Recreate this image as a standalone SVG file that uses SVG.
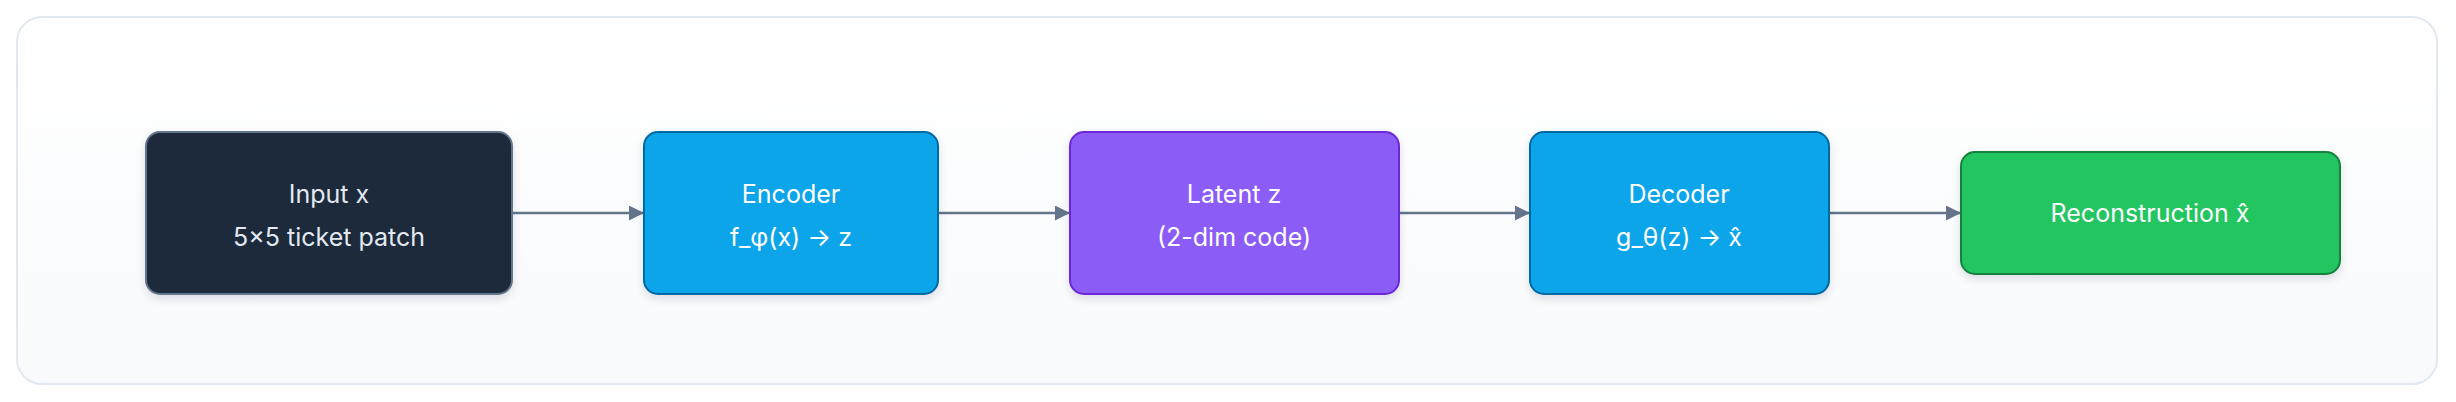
<svg xmlns="http://www.w3.org/2000/svg" width="2456" height="402" viewBox="0 0 2456 402">
<style>
text{font-family:Inter,"Liberation Sans",sans-serif;font-size:25px;text-anchor:middle;fill:#ffffff}
.e{stroke:#64748b;stroke-width:2.5;fill:none}
</style>
<defs>
<marker id="a" viewBox="0 0 10 10" refX="10" refY="5" markerWidth="6" markerHeight="6" orient="auto" markerUnits="strokeWidth"><path d="M0,0L10,5L0,10z" fill="#64748b"/></marker>
<filter id="s" x="-10%" y="-10%" width="120%" height="130%"><feDropShadow dx="0" dy="4" stdDeviation="5" flood-color="#0f172a" flood-opacity="0.12"/></filter>
<linearGradient id="bg" x1="0" y1="0" x2="0" y2="1"><stop offset="0" stop-color="#ffffff"/><stop offset="1" stop-color="#f8fafc"/></linearGradient>
</defs>
<rect width="2456" height="402" fill="#ffffff"/>
<rect x="17" y="17" width="2420" height="367" rx="25" fill="url(#bg)" stroke="#e2e8f0" stroke-width="2"/>
<g id="connectors">
<line class="e" x1="512" y1="213" x2="644" y2="213" marker-end="url(#a)"/>
<line class="e" x1="938" y1="213" x2="1070" y2="213" marker-end="url(#a)"/>
<line class="e" x1="1399" y1="213" x2="1530" y2="213" marker-end="url(#a)"/>
<line class="e" x1="1829" y1="213" x2="1961" y2="213" marker-end="url(#a)"/>
</g>
<g id="input"><rect x="146" y="132" width="366" height="162" rx="14" fill="#1e293b" stroke="#64748b" stroke-width="2" filter="url(#s)"/><text x="329" y="203" fill="#e2e8f0" style="fill:#e2e8f0">Input x</text><text x="329" y="246" style="fill:#e2e8f0">5x5 ticket patch</text></g>
<g id="encoder"><rect x="644" y="132" width="294" height="162" rx="14" fill="#0ea5e9" stroke="#0369a1" stroke-width="2" filter="url(#s)"/><text x="791" y="203">Encoder</text><text x="791" y="246">f_φ(x) → z</text></g>
<g id="latent"><rect x="1070" y="132" width="329" height="162" rx="14" fill="#8b5cf6" stroke="#6d28d9" stroke-width="2" filter="url(#s)"/><text x="1234" y="203">Latent z</text><text x="1234" y="246">(2-dim code)</text></g>
<g id="decoder"><rect x="1530" y="132" width="299" height="162" rx="14" fill="#0ea5e9" stroke="#0369a1" stroke-width="2" filter="url(#s)"/><text x="1679" y="203">Decoder</text><text x="1679" y="246">g_θ(z) → x̂</text></g>
<g id="reconstruction"><rect x="1961" y="152" width="379" height="122" rx="14" fill="#22c55e" stroke="#15803d" stroke-width="2" filter="url(#s)"/><text x="2150" y="222">Reconstruction x̂</text></g>
</svg>
